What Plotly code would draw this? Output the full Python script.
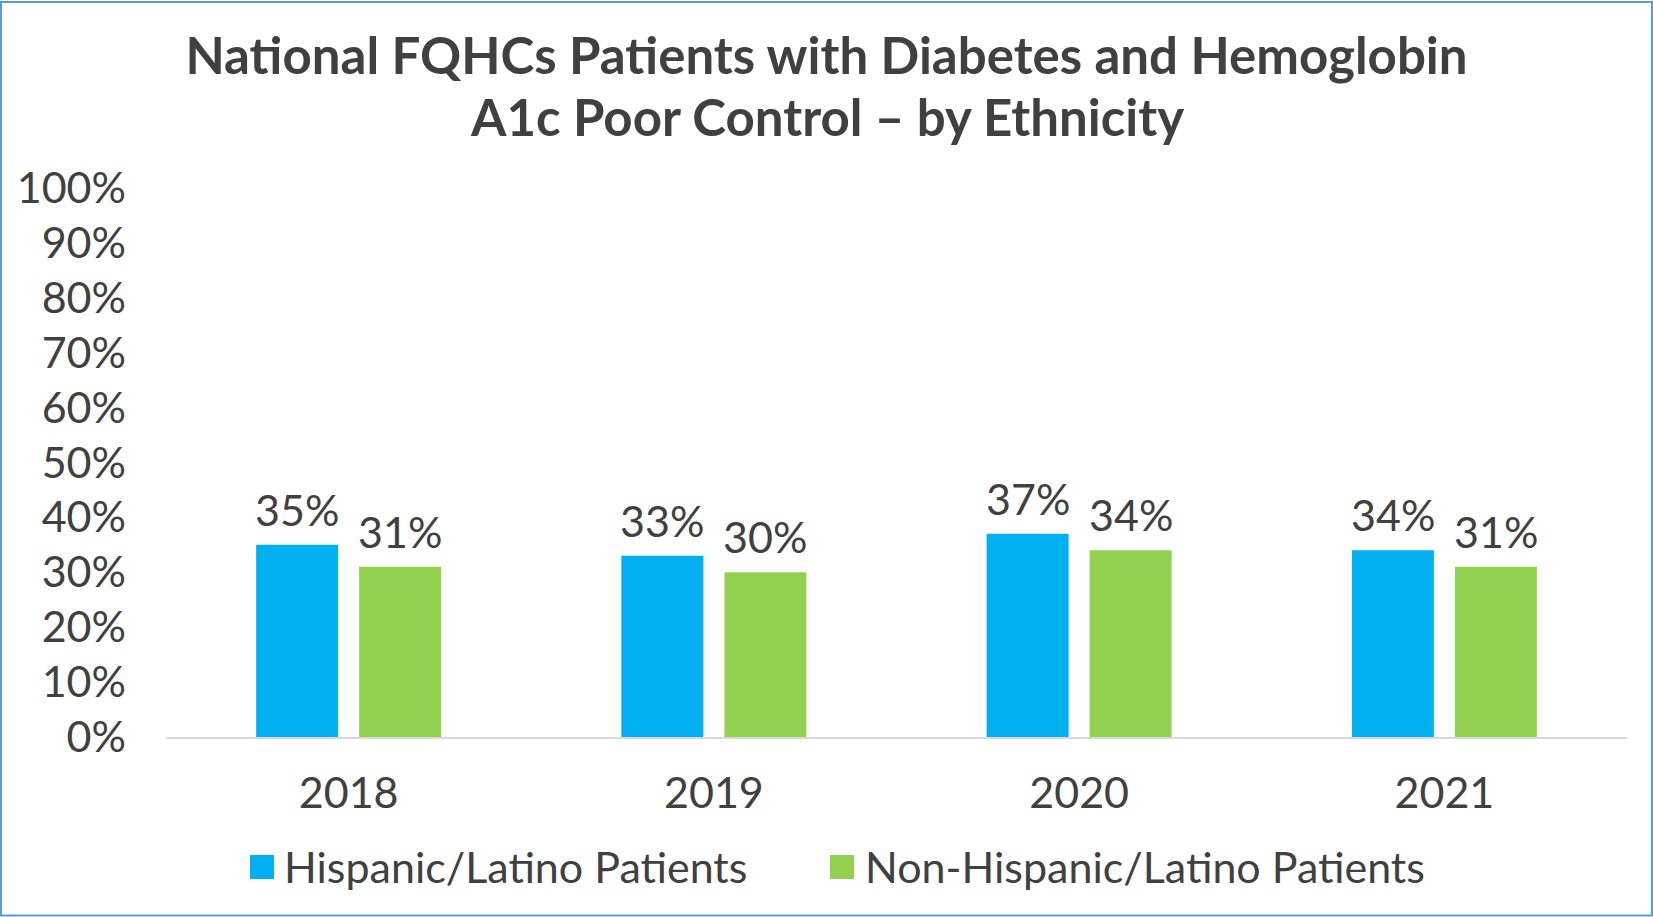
import plotly.graph_objects as go

years = ["2018", "2019", "2020", "2021"]
hispanic = [35, 33, 37, 34]
non_hispanic = [31, 30, 34, 31]
series_names = ["Hispanic/Latino Patients", "Non-Hispanic/Latino Patients"]
colors = ["#00B0F0", "#92D050"]
y_ticks = list(range(0, 101, 10))
y_tick_labels = [f"{v}%" for v in y_ticks]
title_lines = ["National FQHCs Patients with Diabetes and Hemoglobin", "A1c Poor Control \u2013 by Ethnicity"]

W, H = 1653, 917
L, R, T, B = 166, 26, 188, 180
FONT = "Lato"
TXT = "#404040"
FS = 43
pw = W - L - R
ph = H - T - B


def px_x(px):
    return (px - L) / pw


def px_y(py):
    return (H - B - py) / ph


BAR_GAP = 0.436
GROUP_GAP = 0.204
slot_px = pw / len(years) * (1 - BAR_GAP) / 2

fig = go.Figure()
annotations = []
for i, (name, vals, col) in enumerate(zip(series_names, [hispanic, non_hispanic], colors)):
    fig.add_trace(go.Bar(
        x=years, y=vals, name=name,
        marker=dict(color=col, line=dict(width=0)),
        showlegend=False,
    ))
    shift = (i - 0.5) * slot_px
    for ci, v in enumerate(vals):
        annotations.append(dict(
            x=ci, y=v, xref="x", yref="y", text=f"{v}%", showarrow=False,
            xshift=shift, yanchor="bottom", yshift=8,
            font=dict(family=FONT, size=FS, color=TXT)))

# second title line
annotations.append(dict(x=px_x(W / 2), y=px_y(116), xref="paper", yref="paper",
                        xanchor="center", yanchor="middle", showarrow=False,
                        text="<b>" + title_lines[1] + "</b>",
                        font=dict(family=FONT, size=51, color=TXT)))

# legend (drawn manually to match large square swatches)
legend_items = [(250, 282), (830, 863)]
shapes = []
for (sq_x, tx_x), name, col in zip(legend_items, series_names, colors):
    shapes.append(dict(type="rect", xref="paper", yref="paper",
                       x0=px_x(sq_x), x1=px_x(sq_x + 24), y0=px_y(879), y1=px_y(855),
                       line=dict(width=0), fillcolor=col))
    annotations.append(dict(x=px_x(tx_x), y=px_y(866), xref="paper", yref="paper",
                            xanchor="left", yanchor="middle", text=name, showarrow=False,
                            font=dict(family=FONT, size=FS, color=TXT)))

shapes.append(dict(type="rect", xref="paper", yref="paper",
                   x0=px_x(1), x1=px_x(W - 1), y0=px_y(H - 1.5), y1=px_y(2),
                   line=dict(color="#5B9BD5", width=2), fillcolor="rgba(0,0,0,0)", layer="above"))

fig.update_layout(
    width=W, height=H,
    margin=dict(l=L, r=R, t=T, b=B, autoexpand=False),
    paper_bgcolor="white", plot_bgcolor="white",
    font=dict(family=FONT, color=TXT),
    title=dict(text="<b>" + title_lines[0] + "</b>",
               x=0.5, xref="container", xanchor="center",
               y=1 - 56 / H, yref="container", yanchor="middle",
               font=dict(family=FONT, size=51, color=TXT)),
    barmode="group", bargap=BAR_GAP, bargroupgap=GROUP_GAP,
    showlegend=False,
    shapes=shapes,
    annotations=annotations,
    xaxis=dict(type="category", range=[-0.5, len(years) - 0.5],
               showgrid=False, showline=True, linecolor="#D9D9D9", linewidth=2,
               ticks="", tickfont=dict(family=FONT, size=FS, color=TXT),
               ticklabelstandoff=17),
    yaxis=dict(range=[0, 100], tickmode="array", tickvals=y_ticks, ticktext=y_tick_labels,
               showgrid=False, zeroline=False, showline=False, ticks="",
               tickfont=dict(family=FONT, size=FS, color=TXT),
               ticklabelstandoff=39),
)

fig.write_html("out.html", config={"displayModeBar": False},
               post_script="document.body.style.margin='0';")
